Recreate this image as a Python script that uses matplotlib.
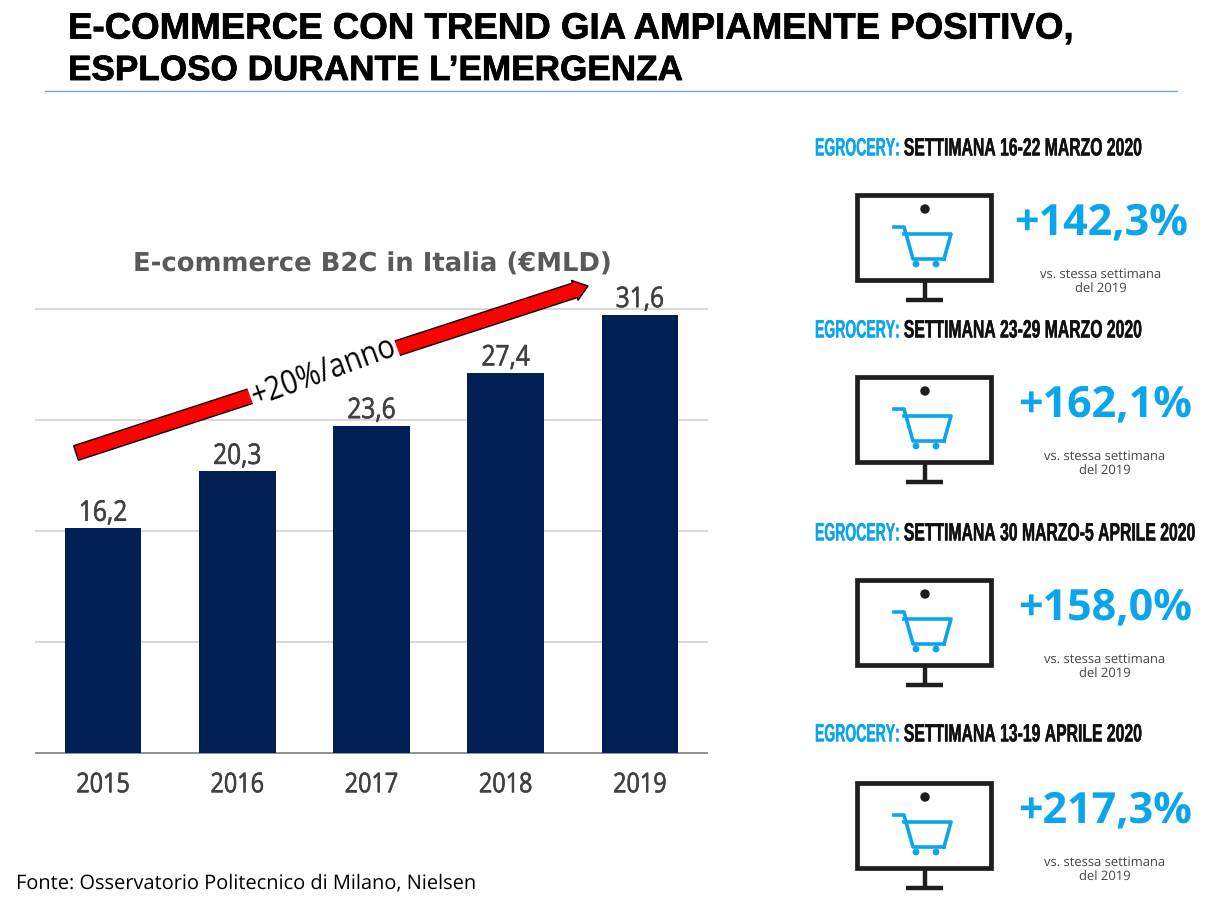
import matplotlib
matplotlib.use("Agg")
import matplotlib.pyplot as plt
from matplotlib.patches import Rectangle, Circle, FancyArrowPatch
from matplotlib.font_manager import FontProperties, findfont
import matplotlib.patheffects as pe
from fontTools.ttLib import TTFont
from fontTools.ttLib.tables import ttProgram

plt.rcParams["text.hinting"] = "none"
W, H = 1217, 910
years = ["2015", "2016", "2017", "2018", "2019"]
values = [16.2, 20.3, 23.6, 27.4, 31.6]
value_labels = ["16,2", "20,3", "23,6", "27,4", "31,6"]
grid_ticks = [0, 8, 16, 24, 32]
week_labels = ["SETTIMANA 16-22 MARZO 2020", "SETTIMANA 23-29 MARZO 2020",
               "SETTIMANA 30 MARZO-5 APRILE 2020", "SETTIMANA 13-19 APRILE 2020"]
week_growth = ["+142,3%", "+162,1%", "+158,0%", "+217,3%"]

NAVY = "#001F54"
BLUE = "#0AA5EC"
GREY = "#404040"
INK = "#1E1E1E"


def condensed(family, weight, s, out):
    """Build a horizontally narrowed copy of an installed font, since no condensed face is installed."""
    src = findfont(FontProperties(family=family, weight=weight))
    try:
        f = TTFont(src)
        glyf, hmtx = f["glyf"], f["hmtx"]
        for name in f.getGlyphOrder():
            g = glyf[name]
            if g.isComposite():
                for c in g.components:
                    c.x = int(round(c.x * s))
            elif g.numberOfContours > 0:
                g.coordinates.scale((s, 1))
                g.coordinates.toInt()
                g.program = ttProgram.Program()
                g.program.fromBytecode(b"")
            adv, lsb = hmtx[name]
            hmtx[name] = (int(round(adv * s)), int(round(lsb * s)))
        for name in f.getGlyphOrder():
            glyf[name].recalcBounds(glyf)
        for tag in ("fpgm", "prep", "cvt ", "kern", "GPOS", "GSUB", "hdmx", "VDMX", "LTSH", "gasp"):
            if tag in f:
                del f[tag]
        f.save(out)
        return out
    except Exception as e:
        print("condense failed", e)
        return src


HEAD_BLUE = condensed("Liberation Sans", "bold", 0.56, "head_blue.ttf")
HEAD_DARK = condensed("Liberation Sans", "bold", 0.63, "head_dark.ttf")
LABEL = condensed("Open Sans", "normal", 0.86, "label.ttf")


def fp(path, size):
    return FontProperties(fname=path, size=size)


fig = plt.figure(figsize=(W / 100, H / 100), dpi=100, facecolor="white")
label_fx = [pe.withStroke(linewidth=0.4, foreground=GREY)]

# bar chart
ax = fig.add_axes([36 / W, 1 - 753 / H, 671 / W, 444 / H])
ax.bar(range(len(years)), values, width=0.57, color=NAVY, zorder=3)
ax.set_xlim(-0.5, 4.5)
ax.set_ylim(0, 32)
ax.set_yticks(grid_ticks)
ax.set_yticklabels([])
ax.tick_params(axis="both", length=0)
ax.grid(axis="y", color="#D4D4D4", lw=1.3, zorder=0)
for l in ax.get_ygridlines():
    l.set_clip_on(False)
ax.set_xticks(range(len(years)))
ax.set_xticklabels(years, fontproperties=fp(LABEL, 19.6), color=GREY, path_effects=label_fx)
ax.tick_params(axis="x", pad=13.5)
for s in ["top", "left", "right"]:
    ax.spines[s].set_visible(False)
ax.spines["bottom"].set_color("#8C8C8C")
ax.spines["bottom"].set_linewidth(1.3)
for i, (v, t) in enumerate(zip(values, value_labels)):
    ax.annotate(t, (i, v), xytext=(0, 0.5), textcoords="offset points", ha="center",
                va="bottom", fontproperties=fp(LABEL, 20.5), color=GREY, zorder=4,
                path_effects=label_fx)

# page-level overlay in pixel coordinates
ov = fig.add_axes([0, 0, 1, 1], zorder=5)
ov.set_xlim(0, W)
ov.set_ylim(H, 0)
ov.axis("off")
ov.patch.set_alpha(0)

heavy = [pe.withStroke(linewidth=0.5, foreground="black")]
ov.text(68, 29, "E-COMMERCE CON TREND GIA AMPIAMENTE POSITIVO,", family="Liberation Sans",
        weight="bold", fontsize=26.4, va="center", color="black", path_effects=heavy)
ov.text(68, 71, "ESPLOSO DURANTE L\u2019EMERGENZA", family="Liberation Sans",
        weight="bold", fontsize=25.3, va="center", color="black", path_effects=heavy)
ov.plot([45, 1177], [91, 91], color="#7FA3C4", lw=1)

ov.text(372, 264, "E-commerce B2C in Italia (\u20acMLD)", family="DejaVu Sans", weight="bold",
        fontsize=18.6, color="#595959", ha="center", va="center")

ov.add_patch(FancyArrowPatch((76, 453), (588, 286),
                             arrowstyle="simple,head_length=10,head_width=15,tail_width=11",
                             mutation_scale=1, fc="#FF0000", ec="black", lw=1, shrinkA=0, shrinkB=0))
ov.text(324, 373, "+20%/anno", fontproperties=fp(LABEL, 24), rotation=20, rotation_mode="anchor",
        ha="center", va="center", color="black", bbox=dict(fc="white", ec="none", pad=1))

ov.text(16, 883, "Fonte: Osservatorio Politecnico di Milano, Nielsen", family="Open Sans",
        fontsize=14.45, va="center", color="black")


def icon(top):
    k = dict(color=INK, solid_capstyle="butt")
    ov.add_patch(Rectangle((857, top + 2.5), 134, 85, fc="white", ec=INK, lw=3.4))
    ov.plot([924.5, 924.5], [top + 89, top + 108], lw=3.2, **k)
    ov.plot([906, 943], [top + 108, top + 108], lw=3.2, **k)
    ov.add_patch(Circle((925, top + 17), 4.7, fc=INK, ec="none"))
    ov.plot([894, 904, 913, 944], [top + 35, top + 35, top + 67, top + 67], color=BLUE, lw=2.6)
    ov.plot([904, 951, 944], [top + 42, top + 42, top + 67], color=BLUE, lw=2.6)
    for cx in (916, 936):
        ov.add_patch(Circle((cx, top + 72), 3.4, fc=BLUE, ec="none"))


tops = [192, 374, 577, 780]
title_y = [149, 331, 534, 735]
pct_x = [1101, 1105, 1105, 1105]
r = fig.canvas.get_renderer()
hstroke = [pe.withStroke(linewidth=0.3, foreground="#111111")]
bstroke = [pe.withStroke(linewidth=0.2, foreground=BLUE)]
for lab, g, top, ty, px in zip(week_labels, week_growth, tops, title_y, pct_x):
    t1 = ov.text(815, ty, "EGROCERY:", fontproperties=fp(HEAD_BLUE, 18), va="center", color=BLUE, path_effects=bstroke)
    x1 = t1.get_window_extent(r).x1
    ov.text(x1 + 4, ty, lab, fontproperties=fp(HEAD_DARK, 18), va="center", color="#111111", path_effects=hstroke)
    icon(top)
    ov.text(px, top + 31, g, family="Open Sans", weight="bold", fontsize=31, color=BLUE, ha="center", va="center")
    ov.text(px, top + 82, "vs. stessa settimana", family="Open Sans", fontsize=9.4, color="#444444", ha="center", va="center")
    ov.text(px, top + 97, "del 2019", family="Open Sans", fontsize=9.4, color="#444444", ha="center", va="center")

fig.savefig("out.png", dpi=100, facecolor="white")
